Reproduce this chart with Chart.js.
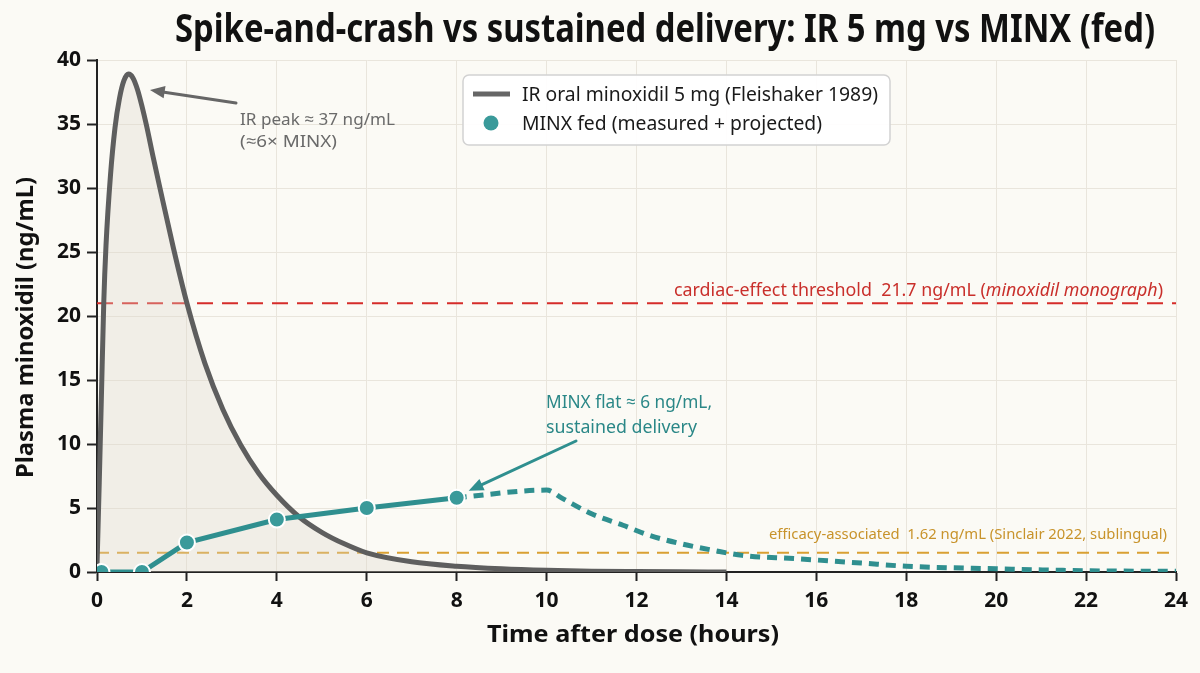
<!DOCTYPE html>
<html><head><meta charset="utf-8">
<script src="https://cdn.jsdelivr.net/npm/chart.js@4.4.1/dist/chart.umd.min.js"></script>
<style>html,body{margin:0;padding:0;background:#fbfaf5;}#wrap{width:1200px;height:673px;}</style>
</head><body><div id="wrap"><canvas id="c" width="1200" height="673"></canvas></div>
<script>
// ---- data ----
const irTime = [0, 0.05, 0.1, 0.15, 0.2, 0.3, 0.4, 0.5, 0.6, 0.7, 0.8, 0.9, 1.0, 1.1, 1.25, 1.4, 1.7, 2.0, 2.4, 2.8, 3.2, 3.6, 4.0, 4.5, 5.0, 5.5, 6.0, 7.0, 8.0, 9.0, 10, 11, 12, 13, 14];
const irConc = [0.5, 7, 14, 21, 25.5, 31, 34.7, 37, 38.4, 38.9, 38.6, 37.7, 36.4, 34.9, 32.4, 30, 25.3, 21.0, 16.3, 12.7, 9.9, 7.7, 6.0, 4.3, 3.1, 2.2, 1.5, 0.8, 0.45, 0.25, 0.13, 0.06, 0.03, 0.01, 0];
const minxTime = [0.1, 1, 2, 4, 6, 8];
const minxConc = [0, 0, 2.3, 4.1, 5.0, 5.8];
const projTime = [8, 10, 10.35, 11, 11.7, 12.3, 13, 13.7, 14.35, 15.5, 17, 18, 20, 22, 24];
const projConc = [5.8, 6.4, 5.75, 4.55, 3.65, 2.85, 2.2, 1.7, 1.3, 1.05, 0.7, 0.45, 0.25, 0.1, 0.05];
const xTicks = [0, 2, 4, 6, 8, 10, 12, 14, 16, 18, 20, 22, 24];
const yTicks = [0, 5, 10, 15, 20, 25, 30, 35, 40];
const cardiacLevel = 21.0;
const efficacyLevel = 1.5;
const titleText = "Spike-and-crash vs sustained delivery: IR 5 mg vs MINX (fed)";
const xTitle = "Time after dose (hours)";
const yTitle = "Plasma minoxidil (ng/mL)";
const legendIR = "IR oral minoxidil 5 mg (Fleishaker 1989)";
const legendMINX = "MINX fed (measured + projected)";

const FONT = "'Noto Sans','Open Sans',sans-serif";
const GRAY = '#5e5e5e', TEAL = '#2f8f8f', RED = '#d52c2a', GOLD = '#d9a032';

function pts(t, v) { return t.map((x, i) => ({ x: x, y: v[i] })); }

function fitText(ctx, text, left, base, width, font, color) {
  ctx.save();
  ctx.font = font;
  const m = ctx.measureText(text).width;
  ctx.translate(left, base);
  ctx.scale(width / m, 1);
  ctx.fillStyle = color; ctx.textAlign = 'left'; ctx.textBaseline = 'alphabetic';
  ctx.fillText(text, 0, 0);
  ctx.restore();
}
function arrow(ctx, x1, y1, x2, y2, color, w, hl) {
  const a = Math.atan2(y2 - y1, x2 - x1);
  ctx.save();
  ctx.strokeStyle = color; ctx.fillStyle = color; ctx.lineWidth = w; ctx.lineCap = 'round';
  ctx.beginPath(); ctx.moveTo(x1, y1);
  ctx.lineTo(x2 - Math.cos(a) * hl * 0.8, y2 - Math.sin(a) * hl * 0.8); ctx.stroke();
  ctx.beginPath(); ctx.moveTo(x2, y2);
  ctx.lineTo(x2 - hl * Math.cos(a - 0.4), y2 - hl * Math.sin(a - 0.4));
  ctx.lineTo(x2 - hl * Math.cos(a + 0.4), y2 - hl * Math.sin(a + 0.4));
  ctx.closePath(); ctx.fill();
  ctx.restore();
}

const decor = {
  id: 'decor',
  beforeDraw(chart) {
    const ctx = chart.ctx;
    ctx.save(); ctx.fillStyle = '#fbfaf5'; ctx.fillRect(0, 0, chart.width, chart.height); ctx.restore();
  },
  afterDraw(chart) {
    const ctx = chart.ctx;
    // title
    fitText(ctx, titleText, 175, 42, 980, "bold 39px " + FONT, '#111');
    // axis titles
    fitText(ctx, xTitle, 487, 642, 292, "bold 23px " + FONT, '#111');
    ctx.save();
    ctx.translate(33, 478); ctx.rotate(-Math.PI / 2);
    fitText(ctx, yTitle, 0, 0, 301, "bold 23px " + FONT, '#111');
    ctx.restore();
    // legend
    ctx.save();
    ctx.fillStyle = 'rgba(255,255,255,0.92)'; ctx.strokeStyle = '#d2d2d2'; ctx.lineWidth = 1.5;
    ctx.beginPath(); ctx.roundRect(463, 75, 427, 70, 6); ctx.fill(); ctx.stroke();
    ctx.strokeStyle = '#666'; ctx.lineWidth = 5;
    ctx.beginPath(); ctx.moveTo(473, 94); ctx.lineTo(510, 94); ctx.stroke();
    ctx.fillStyle = '#3a9a9a';
    ctx.beginPath(); ctx.arc(491, 123, 7.5, 0, Math.PI * 2); ctx.fill();
    ctx.restore();
    fitText(ctx, legendIR, 522, 101, 356, "19px " + FONT, '#1a1a1a');
    fitText(ctx, legendMINX, 522, 130, 300, "19px " + FONT, '#1a1a1a');
    // IR peak annotation
    arrow(ctx, 236, 103, 150, 90, '#666', 3, 16);
    fitText(ctx, "IR peak \u2248 37 ng/mL", 240, 125, 155, "17px " + FONT, '#6a6a6a');
    fitText(ctx, "(\u22486\u00d7 MINX)", 240, 147, 97, "17px " + FONT, '#6a6a6a');
    // MINX annotation
    const xs = chart.scales.x, ys = chart.scales.y;
    const hx = xs.getPixelForValue(8) + 12, hy = ys.getPixelForValue(5.8) - 7;
    arrow(ctx, 576, 441, hx, hy, TEAL, 3, 16);
    fitText(ctx, "MINX flat \u2248 6 ng/mL,", 546, 408, 166, "18px " + FONT, '#2a8787');
    fitText(ctx, "sustained delivery", 546, 433, 151, "18px " + FONT, '#2a8787');
    // cardiac threshold label (mixed italic)
    ctx.save();
    const parts = [["cardiac-effect threshold  21.7 ng/mL (", "18px " + FONT], ["minoxidil monograph", "italic 18px " + FONT], [")", "18px " + FONT]];
    let tot = 0; parts.forEach(p => { ctx.font = p[1]; tot += ctx.measureText(p[0]).width; });
    const s = 489 / tot; let cx = 674;
    const by = ys.getPixelForValue(cardiacLevel) - 7;
    parts.forEach(p => {
      ctx.font = p[1]; const w = ctx.measureText(p[0]).width;
      ctx.save(); ctx.translate(cx, by); ctx.scale(s, 1); ctx.fillStyle = '#c92f2b'; ctx.fillText(p[0], 0, 0); ctx.restore();
      cx += w * s;
    });
    ctx.restore();
    // efficacy label
    fitText(ctx, "efficacy-associated  1.62 ng/mL (Sinclair 2022, sublingual)", 769, ys.getPixelForValue(efficacyLevel) - 14, 398, "15px " + FONT, '#c8932b');
  }
};

const ctxc = document.getElementById('c').getContext('2d');
new Chart(ctxc, {
  type: 'line',
  data: {
    datasets: [
      { label: 'cardiac', data: pts([0, 24], [cardiacLevel, cardiacLevel]), borderColor: RED, borderWidth: 2, borderDash: [16, 9], pointRadius: 0, fill: false, order: 6 },
      { label: 'efficacy', data: pts([0, 24], [efficacyLevel, efficacyLevel]), borderColor: GOLD, borderWidth: 2, borderDash: [12, 8], pointRadius: 0, fill: false, order: 5 },
      { label: legendIR, data: pts(irTime, irConc), borderColor: GRAY, borderWidth: 5, pointRadius: 0,
        cubicInterpolationMode: 'monotone', fill: 'origin', backgroundColor: 'rgba(222,214,202,0.32)', order: 4 },
      { label: 'projected', data: pts(projTime, projConc), borderColor: TEAL, borderWidth: 5, borderDash: [10, 7], pointRadius: 0,
        cubicInterpolationMode: 'monotone', fill: false, order: 2 },
      { label: legendMINX, data: pts(minxTime, minxConc), borderColor: TEAL, borderWidth: 5, tension: 0,
        pointRadius: 8, pointBackgroundColor: '#3a9a9a', pointBorderColor: '#ffffff', pointBorderWidth: 2, fill: false, order: 1 }
    ]
  },
  options: {
    responsive: false, animation: false, devicePixelRatio: 1,
    layout: { padding: { left: 0, right: 24, top: 60, bottom: 0 } },
    plugins: { legend: { display: false }, tooltip: { enabled: false }, title: { display: false } },
    scales: {
      x: {
        type: 'linear', min: 0, max: 24,
        afterFit: s => { s.height = 101; },
        afterBuildTicks: s => { s.ticks = xTicks.map(v => ({ value: v })); },
        ticks: { font: { family: FONT, size: 21, weight: 'bold' }, color: '#111', padding: 7, maxRotation: 0 },
        grid: { color: '#e9e5dc', borderDash: [4, 4], tickColor: '#222', tickLength: 9, tickWidth: 2, tickBorderDash: [] },
        border: { color: '#222', width: 2 }
      },
      y: {
        type: 'linear', min: 0, max: 40,
        afterFit: s => { s.width = 97; },
        afterBuildTicks: s => { s.ticks = yTicks.map(v => ({ value: v })); },
        ticks: { font: { family: FONT, size: 21, weight: 'bold' }, color: '#111', padding: 6 },
        grid: { color: '#e9e5dc', borderDash: [4, 4], tickColor: '#222', tickLength: 10, tickWidth: 2, tickBorderDash: [] },
        border: { color: '#222', width: 2 }
      }
    }
  },
  plugins: [decor]
});
</script>
</body></html>
